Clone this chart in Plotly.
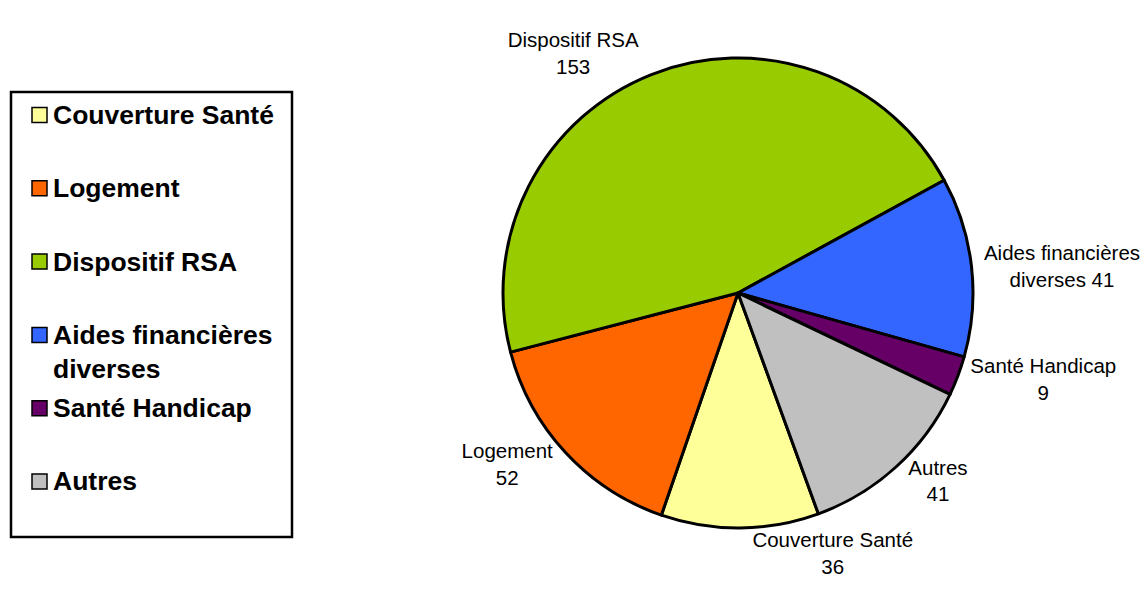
import plotly.graph_objects as go

# Répartition des demandes par dispositif
categories = ["Couverture Santé", "Logement", "Dispositif RSA",
              "Aides financières diverses", "Santé Handicap", "Autres"]
values = [36, 52, 153, 41, 9, 41]
# Libellés affichés autour du camembert (avec retours à la ligne)
slice_captions = ["Couverture Santé<br>", "Logement<br>", "Dispositif RSA<br>",
                  "Aides financières<br>diverses ", "Santé Handicap<br>", "Autres<br>"]
legend_labels = ["Couverture Santé", "Logement", "Dispositif RSA",
                 "Aides financières<br>diverses", "Santé Handicap", "Autres"]
colors = ["#FFFF99", "#FF6600", "#99CC00", "#3366FF", "#660066", "#C0C0C0"]

W, H = 1145, 589
FONT = "Arial, Liberation Sans, sans-serif"

fig = go.Figure()
fig.add_trace(go.Pie(
    labels=categories,
    values=values,
    text=[c + str(v) for c, v in zip(slice_captions, values)],
    texttemplate="%{text}",
    textposition="outside",
    textfont=dict(family=FONT, size=20.5, color="black"),
    marker=dict(colors=colors, line=dict(color="black", width=3)),
    sort=False,
    direction="clockwise",
    rotation=160,
    showlegend=False,
    hoverinfo="label+value",
    domain=dict(x=[(738 - 235) / W, (738 + 235) / W],
                y=[(H - 293 - 235) / H, (H - 293 + 235) / H]),
))

# Légende dessinée à gauche : cadre, carrés de couleur et libellés en gras
def px_x(x):
    return x / W

def px_y(y):
    return 1 - y / H

shapes = [dict(type="rect", xref="paper", yref="paper",
               x0=px_x(11), x1=px_x(292), y0=px_y(537), y1=px_y(92),
               line=dict(color="black", width=2.5), fillcolor="white", layer="below")]
annotations = []
for i, (lab, col) in enumerate(zip(legend_labels, colors)):
    yc = 115 + 73.3 * i
    shapes.append(dict(type="rect", xref="paper", yref="paper",
                       x0=px_x(32), x1=px_x(47), y0=px_y(yc + 7.5), y1=px_y(yc - 7.5),
                       line=dict(color="black", width=1.5), fillcolor=col))
    annotations.append(dict(
        text="<b>" + lab + "</b>", xref="paper", yref="paper",
        x=px_x(51), y=px_y(yc - 17), xanchor="left", yanchor="top",
        showarrow=False, align="left",
        font=dict(family=FONT, size=26.5, color="black")))

fig.update_layout(
    width=W, height=H,
    margin=dict(l=0, r=0, t=0, b=0),
    paper_bgcolor="white", plot_bgcolor="white",
    shapes=shapes, annotations=annotations,
)

fig.write_html("out.html")
